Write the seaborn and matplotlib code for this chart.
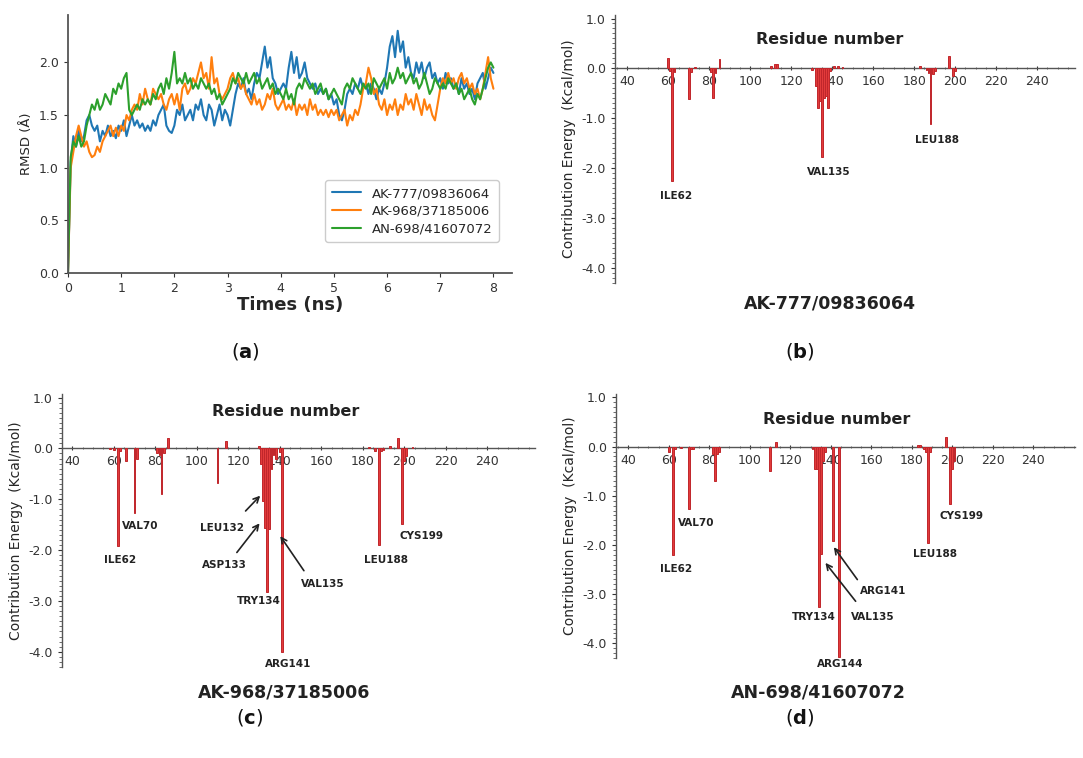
import numpy as np
import pandas as pd
import matplotlib
matplotlib.use("Agg")
import matplotlib.pyplot as plt
from matplotlib.ticker import MultipleLocator, FormatStrFormatter
import seaborn as sns

# ---------------- (a) RMSD, one value every 0.05 ns ----------------
times = np.round(np.arange(0, 8.001, 0.05), 2)

rmsd_ak777 = [
    0.0, 1.05, 1.3, 1.2, 1.35, 1.25, 1.3, 1.45, 1.5, 1.4,
    1.35, 1.4, 1.25, 1.35, 1.3, 1.4, 1.3, 1.35, 1.28, 1.4,
    1.35, 1.45, 1.3, 1.4, 1.5, 1.4, 1.45, 1.38, 1.42, 1.35,
    1.4, 1.35, 1.45, 1.4, 1.5, 1.55, 1.6, 1.4, 1.35, 1.33,
    1.4, 1.55, 1.5, 1.6, 1.45, 1.5, 1.55, 1.45, 1.6, 1.55,
    1.65, 1.5, 1.45, 1.6, 1.55, 1.4, 1.5, 1.6, 1.45, 1.55,
    1.5, 1.4, 1.55, 1.7, 1.8, 1.75, 1.85, 1.7, 1.75, 1.65,
    1.8, 1.9, 1.85, 2.0, 2.15, 1.95, 2.05, 1.85, 1.8, 1.7,
    1.75, 1.8, 1.75, 1.95, 2.1, 1.9, 2.05, 1.85, 1.9, 2.0,
    1.85, 1.8, 1.75, 1.8, 1.7, 1.75, 1.7, 1.75, 1.65, 1.7,
    1.6, 1.65, 1.5, 1.45, 1.55, 1.7, 1.75, 1.7, 1.8, 1.75,
    1.85, 1.75, 1.8, 1.7, 1.8, 1.75, 1.65, 1.75, 1.7, 1.8,
    1.95, 2.15, 2.25, 2.05, 2.3, 2.1, 2.2, 1.95, 2.05, 1.9,
    1.85, 2.0, 1.9, 2.0, 1.85, 1.95, 2.0, 1.85, 1.9, 1.8,
    1.85, 1.75, 1.9, 1.8, 1.85, 1.75, 1.8, 1.7, 1.85, 1.75,
    1.8, 1.7, 1.75, 1.65, 1.8, 1.85, 1.9, 1.75, 1.85, 1.95,
    1.9,
]
rmsd_ak968 = [
    0.0, 1.0, 1.15, 1.3, 1.4, 1.3, 1.2, 1.25, 1.15, 1.1,
    1.12, 1.2, 1.15, 1.25, 1.3, 1.35, 1.4, 1.3, 1.38, 1.3,
    1.4, 1.35, 1.5, 1.45, 1.55, 1.6, 1.55, 1.7, 1.6, 1.75,
    1.65, 1.6, 1.75, 1.7, 1.65, 1.7, 1.6, 1.55, 1.65, 1.7,
    1.6, 1.7, 1.55, 1.75, 1.8, 1.7, 1.75, 1.85, 1.8, 1.9,
    2.0, 1.85, 1.9, 1.75, 2.05, 1.8, 1.85, 1.7, 1.65, 1.7,
    1.75, 1.85, 1.9, 1.8, 1.85, 1.75, 1.8, 1.7, 1.65, 1.6,
    1.7, 1.6, 1.65, 1.55, 1.6, 1.7, 1.65, 1.75, 1.6, 1.55,
    1.6, 1.65, 1.55, 1.6, 1.55, 1.65, 1.5, 1.6, 1.55, 1.6,
    1.5, 1.65, 1.55, 1.6, 1.5, 1.55, 1.5, 1.55, 1.48, 1.55,
    1.5, 1.55, 1.45, 1.5, 1.55, 1.4, 1.5, 1.45, 1.55, 1.5,
    1.6, 1.75, 1.8, 1.95, 1.85, 1.7, 1.75, 1.6, 1.55, 1.65,
    1.5, 1.6, 1.55, 1.65, 1.5, 1.6, 1.55, 1.7, 1.6, 1.65,
    1.55, 1.7, 1.6, 1.5, 1.65, 1.55, 1.6, 1.5, 1.45, 1.6,
    1.75, 1.85, 1.8, 1.9, 1.8, 1.85, 1.75, 1.85, 1.9, 1.8,
    1.85, 1.75, 1.8, 1.7, 1.75, 1.65, 1.75, 1.9, 2.05, 1.85,
    1.75,
]
rmsd_an698 = [
    0.0, 1.1, 1.25, 1.2, 1.3, 1.2, 1.25, 1.4, 1.5, 1.6,
    1.55, 1.65, 1.55, 1.6, 1.7, 1.65, 1.6, 1.75, 1.7, 1.8,
    1.75, 1.85, 1.9, 1.55, 1.5, 1.55, 1.6, 1.55, 1.65, 1.6,
    1.65, 1.6, 1.7, 1.65, 1.75, 1.8, 1.7, 1.85, 1.75, 1.9,
    2.1, 1.8, 1.85, 1.8, 1.9, 1.8, 1.85, 1.75, 1.8, 1.75,
    1.85, 1.8, 1.75, 1.8, 1.7, 1.75, 1.65, 1.7, 1.6, 1.65,
    1.7, 1.75, 1.85, 1.8, 1.9, 1.85, 1.8, 1.9, 1.8, 1.85,
    1.9, 1.8, 1.85, 1.75, 1.8, 1.85, 1.75, 1.8, 1.7, 1.75,
    1.7, 1.65, 1.75, 1.65, 1.7, 1.6, 1.75, 1.8, 1.75, 1.85,
    1.8, 1.75, 1.8, 1.7, 1.75, 1.8, 1.7, 1.75, 1.65, 1.7,
    1.75, 1.7, 1.65, 1.6, 1.75, 1.8, 1.75, 1.85, 1.8, 1.75,
    1.7, 1.8, 1.75, 1.8, 1.7, 1.85, 1.8, 1.75, 1.8, 1.85,
    1.75, 1.9, 1.8, 1.85, 1.95, 1.85, 1.9, 1.8, 1.85, 1.9,
    1.8, 1.85, 1.75, 1.8, 1.9, 1.8, 1.7, 1.75, 1.85, 1.8,
    1.75, 1.8, 1.75, 1.85, 1.8, 1.75, 1.8, 1.7, 1.75, 1.65,
    1.7, 1.75, 1.65, 1.6, 1.7, 1.65, 1.75, 1.85, 1.95, 2.0,
    1.95,
]
ligands = ["AK-777/09836064", "AK-968/37185006", "AN-698/41607072"]

# ---------------- (b)-(d) per-residue energy decomposition ----------------
res_b = [60, 61, 62, 63, 70, 71, 73, 81, 82, 83, 85, 110, 112, 113,
         130, 132, 133, 134, 135, 136, 137, 138, 139, 141, 143, 145,
         183, 186, 187, 188, 189, 190, 197, 199, 200]
energy_b = [0.2, -0.05, -2.25, -0.08, -0.62, -0.08, 0.03, -0.08, -0.6, -0.1, 0.18, 0.05, 0.08, 0.08,
            -0.03, -0.35, -0.8, -0.65, -1.78, -0.6, -0.55, -0.8, -0.05, 0.04, 0.04, 0.03,
            0.05, -0.03, -0.1, -1.12, -0.12, -0.06, 0.25, -0.15, -0.05]

res_c = [58, 60, 62, 63, 66, 70, 71, 81, 82, 83, 84, 86, 110, 114,
         130, 131, 132, 133, 134, 135, 136, 137, 138, 140, 141,
         183, 186, 188, 189, 190, 193, 197, 199, 200, 201, 204]
energy_c = [-0.02, -0.03, -1.92, -0.05, -0.25, -1.27, -0.2, -0.1, -0.12, -0.9, -0.1, 0.2, -0.68, 0.15,
            0.05, -0.3, -1.03, -1.56, -2.82, -1.58, -0.4, -0.12, -0.2, -0.08, -4.0,
            0.03, -0.05, -1.89, -0.06, -0.04, 0.05, 0.2, -1.48, -0.25, -0.15, 0.02]

res_d = [60, 62, 63, 66, 70, 71, 72, 82, 83, 84, 85, 110, 113,
         131, 132, 133, 134, 135, 136, 137, 141, 144,
         183, 184, 186, 187, 188, 189, 197, 199, 200, 201]
energy_d = [-0.1, -2.2, -0.05, -0.03, -1.27, -0.05, -0.04, -0.15, -0.7, -0.15, -0.1, -0.49, 0.1,
            -0.05, -0.45, -0.45, -3.27, -2.18, -0.3, -0.1, -1.91, -4.28,
            0.03, 0.03, -0.05, -0.1, -1.97, -0.1, 0.2, -1.17, -0.45, -0.3]

# residue labels (text, x, y) and arrows (tail x, tail y, head x, head y)
labels_b = [("ILE62", 64, -2.55), ("VAL135", 138.5, -2.08), ("LEU188", 191, -1.44)]
labels_c = [("ILE62", 63, -2.2), ("VAL70", 72.6, -1.53), ("LEU132", 112, -1.56),
            ("ASP133", 113.2, -2.3), ("TRY134", 129.8, -3.0), ("VAL135", 160.5, -2.66),
            ("ARG141", 143.9, -4.25), ("LEU188", 191, -2.2), ("CYS199", 208.4, -1.72)]
labels_d = [("ILE62", 63.7, -2.48), ("VAL70", 73.6, -1.56), ("TRY134", 131.6, -3.47),
            ("VAL135", 160.9, -3.47), ("ARG141", 165.8, -2.94), ("ARG144", 144.8, -4.42),
            ("LEU188", 191.2, -2.19), ("CYS199", 204.4, -1.41)]
arrows_c = [(122.6, -1.27, 131.5, -0.89), (118.5, -2.09, 131.1, -1.43), (152.4, -2.45, 139.5, -1.68)]
arrows_d = [(153.1, -3.19, 136.5, -2.32), (153.9, -2.75, 140.7, -2.0)]

sns.set_style("ticks")
plt.rcParams["font.family"] = ["DejaVu Sans"]
plt.rcParams["axes.unicode_minus"] = False

fig = plt.figure(figsize=(10.83, 7.58), dpi=100)
SPINE = "#555555"
TICK = "#333333"

# ---------------- panel (a) ----------------
ax_a = fig.add_axes([0.0628, 0.6398, 0.41, 0.3404])
rmsd = pd.DataFrame({
    "time": np.concatenate([times] * 3),
    "rmsd": rmsd_ak777 + rmsd_ak968 + rmsd_an698,
    "ligand": np.repeat(ligands, len(times)),
})
sns.lineplot(data=rmsd, x="time", y="rmsd", hue="ligand",
             palette=["#1f77b4", "#ff7f0e", "#2ca02c"], linewidth=1.5, ax=ax_a)
ax_a.set_xlim(0, 8.35)
ax_a.set_ylim(0, 2.45)
ax_a.set_xticks(range(0, 9))
ax_a.set_yticks([0, 0.5, 1.0, 1.5, 2.0])
ax_a.yaxis.set_major_formatter(FormatStrFormatter("%.1f"))
ax_a.set_xlabel("Times (ns)", fontsize=13, fontweight="bold", labelpad=1)
ax_a.set_ylabel("RMSD (Å)", fontsize=9.5)
ax_a.tick_params(labelsize=9, colors=TICK, length=3)
for s in ["top", "right"]:
    ax_a.spines[s].set_visible(False)
for s in ["left", "bottom"]:
    ax_a.spines[s].set_color(SPINE)
    ax_a.spines[s].set_linewidth(1.3)
ax_a.legend(loc="lower right", bbox_to_anchor=(0.985, 0.095), fontsize=9.5,
            frameon=True, framealpha=1, edgecolor="#cccccc", handlelength=2.2,
            borderpad=0.5, labelspacing=0.35)


# ---------------- panels (b)-(d) ----------------
def plot_decomp(rect, res, energy, xlim, labels, arrows, title_xy, name, name_xy):
    ax = fig.add_axes(rect)
    sns.barplot(x=res, y=energy, native_scale=True, width=0.9, color="#e23b3b",
                edgecolor="#c0262b", linewidth=0.7, saturation=1, errorbar=None, ax=ax)
    for p in ax.patches:
        p.set_zorder(3)
    ax.set_axisbelow(True)
    ax.set_xlim(*xlim)
    ax.set_ylim(-4.3, 1.07)
    ax.spines["bottom"].set_position(("data", 0))
    for s in ["top", "right"]:
        ax.spines[s].set_visible(False)
    for s in ["left", "bottom"]:
        ax.spines[s].set_color(SPINE)
        ax.spines[s].set_linewidth(1.0)
    ax.set_xticks(range(40, 260, 20))
    ax.xaxis.set_minor_locator(MultipleLocator(5))
    ax.set_yticks([1.0, 0.0, -1.0, -2.0, -3.0, -4.0])
    ax.yaxis.set_minor_locator(MultipleLocator(0.1))
    ax.yaxis.set_major_formatter(FormatStrFormatter("%.1f"))
    ax.tick_params(axis="both", which="major", labelsize=9, colors=TICK, length=3)
    ax.tick_params(axis="x", which="both", direction="inout")
    ax.tick_params(axis="both", which="minor", length=2, colors=SPINE)
    ax.set_xlabel("")
    ax.set_ylabel("Contribution Energy  (Kcal/mol)", fontsize=10)
    ax.text(title_xy[0], title_xy[1], "Residue number", ha="center", va="center",
            fontsize=11.5, fontweight="bold", color="#222222")
    for txt, x, y in labels:
        ax.text(x, y, txt, ha="center", va="center", fontsize=7.5,
                fontweight="bold", color="#222222", zorder=5)
    for x0, y0, x1, y1 in arrows:
        ax.annotate("", xy=(x1, y1), xytext=(x0, y0),
                    arrowprops=dict(arrowstyle="->", color="#222222", lw=1.2), zorder=5)
    ax.text(name_xy[0], name_xy[1], name, ha="center", va="center",
            fontsize=12.5, fontweight="bold", color="#222222")
    return ax


plot_decomp([0.5679, 0.6266, 0.4247, 0.3536], res_b, energy_b, (34, 258.5),
            labels_b, [], (138.7, 0.58), ligands[0], (138.7, -4.7))
plot_decomp([0.0572, 0.12, 0.4367, 0.3602], res_c, energy_c, (35, 263),
            labels_c, arrows_c, (142.7, 0.73), ligands[1], (142, -4.8))
plot_decomp([0.5688, 0.1319, 0.4238, 0.3483], res_d, energy_d, (34, 260.5),
            labels_d, arrows_d, (143, 0.56), ligands[2], (134, -5.0))

# panel captions
for letter, x, y in [("a", 245, 352), ("b", 800, 352), ("c", 250, 718), ("d", 800, 718)]:
    fig.text(x / 1083, 1 - y / 758, "($\\mathbf{" + letter + "}$)", ha="center", va="center",
             fontsize=14, color="#111111")

fig.savefig("out.png", dpi=100)
